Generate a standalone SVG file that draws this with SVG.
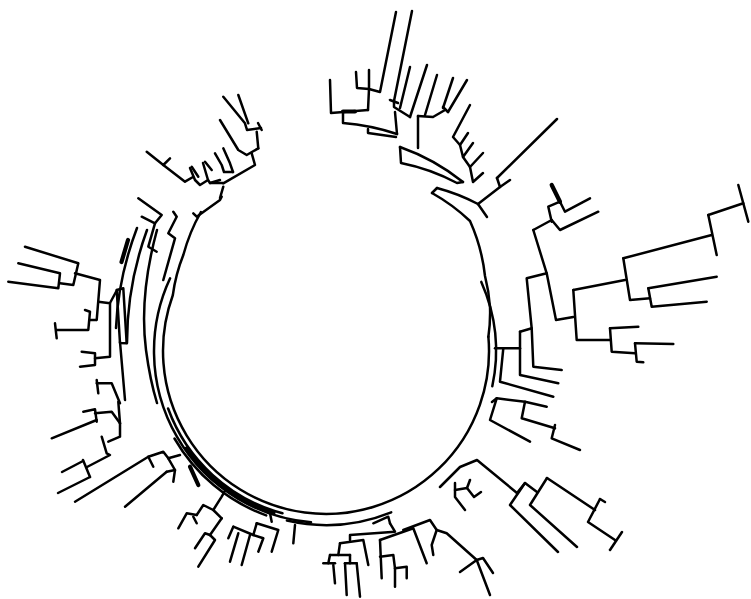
<svg xmlns="http://www.w3.org/2000/svg" width="751" height="599" viewBox="0 0 751 599">
<style>
path{fill:none;stroke:#000;stroke-width:2.5;stroke-linecap:round;stroke-linejoin:round}
.th{stroke-width:4.2}
</style>
<rect width="751" height="599" fill="#fff"/>
<g id="ring">
<path d="M488.4,336.8 A163,163 0 1 1 172.8,295.3 A170,170 0 0 1 183.4,254.8 A180,180 0 0 1 200.9,212"/>
<path d="M432,193 A190,190 0 0 1 470,221 A182,182 0 0 1 485,276 A172,172 0 0 1 490,307 A166,166 0 0 1 488.4,336.8"/>
<path d="M481.3,281.9 A170,170 0 0 1 492.3,386.3"/>
<path d="M311,522.3 A172,172 0 0 1 170.1,278.3"/>
<path d="M282.5,513.3 A168,168 0 0 1 168.1,408.5"/>
<path d="M266.2,515.4 A175,175 0 0 1 174.5,438.5"/>
<path d="M391.2,512.3 A174,174 0 0 1 286.9,520.5"/>
<path class="th" d="M273.5,512.7 A170,170 0 0 1 186.7,448.5"/>
</g>
<g id="top">
<path d="M330,80 L331,113 L368,110"/>
<path class="th" d="M343,111.5 L355,111.5"/>
<path d="M356,72 L357,88 L369,89 L369,70"/>
<path d="M369,89 L368,110"/>
<path d="M369,89 L380,92 L396,12"/>
<path d="M343,112 L343,123 A229,229 0 0 1 397,134"/>
<path d="M368,129 L368,133 L396,137"/>
<path d="M397,134 L395,112"/>
<path d="M390,100 L398,103"/>
<path d="M394,101 L394,107 L410,117"/>
<path d="M394,101 L412,11"/>
<path d="M400,108 L410,67"/>
<path d="M410,117 L427,65"/>
<path d="M425,115 L437,75"/>
<path d="M443,108 L453,78"/>
<path d="M448,112 L467,80"/>
<path d="M443,107 L448,112"/>
<path d="M418,116 L433,117 L445,110"/>
<path d="M418,116 L418,148"/>
<path d="M400,147 A217,217 0 0 1 463,182"/>
<path d="M400,147 L401,163 A205,205 0 0 1 457,183 L463,182"/>
<path d="M470,105 L453,137 L460,145 L468,133"/>
<path d="M460,145 L463,157 L473,143"/>
<path d="M463,157 L470,167 L483,153"/>
<path d="M470,167 L473,182 L483,173"/>
<path d="M557,119 L497,178"/>
<path d="M497,178 L500,187 L510,180"/>
<path d="M500,187 L478,204"/>
<path d="M478,204 L487,217"/>
<path d="M437,188 L432,193"/>
<path d="M437,188 A197,197 0 0 1 478,204"/>
</g>
<g id="right">
<path class="th" d="M551.7,185 L560,201.7"/>
<path d="M560,201.7 L565,211.7 L590,198.3"/>
<path d="M560,201.7 L548.3,206.7 L551.7,221.7"/>
<path d="M551.7,220 L560,230 L598.3,211.7"/>
<path d="M533.3,230 L551.7,220"/>
<path d="M533.3,230 L546.7,273.3 L526.7,278.3 L531.7,328.3"/>
<path d="M546.7,273.3 L556,320 L573.3,317"/>
<path d="M573.3,290 L576.7,340 L610,340"/>
<path d="M573.3,290 L625,280"/>
<path d="M623.3,258.3 L630,300 L650,298.3"/>
<path d="M623.3,258.3 L711.7,235"/>
<path d="M708.3,215 L716.7,255"/>
<path d="M708.3,215 L743.3,203.3"/>
<path d="M738.3,185 L748.3,221.7"/>
<path d="M648.3,288.3 L651.7,306.7 L706.7,301.7"/>
<path d="M648.3,288.3 L716.7,276.7"/>
<path d="M610,328.3 L611.7,351.7 L635,353.3"/>
<path d="M610,328.3 L638.3,326.7"/>
<path d="M635,343.3 L636.7,361.7 L643.3,362.3"/>
<path d="M635,343.3 L673.3,344"/>
<path d="M520,331.7 L531.7,328.3 L533.3,366.7 L561.7,370"/>
<path d="M520,331.7 L520,375 L558.3,383.3"/>
<path d="M495,348.3 L520,348.3"/>
<path d="M503.3,348.3 L500,381.7 L553.3,396.7"/>
<path d="M492,402 L496.7,398.3 L490,420 L530,441.7"/>
<path d="M496.7,398.3 L525,401.7 L546.7,406.7"/>
<path d="M525,401.7 L521.7,418.3 L555,428.3"/>
<path d="M555,425 L551.7,438.3 L580,450"/>
</g>
<g id="bottomright">
<path d="M440,487 L460,467 L477,460 L517,493"/>
<path d="M525,483 L510,505 L558,552"/>
<path d="M517,493 L525,483 L537,492"/>
<path d="M547,478 L530,505 L577,547"/>
<path d="M547,478 L595,510"/>
<path d="M600,499 L588,522 L615,540"/>
<path d="M600,499 L605,502"/>
<path d="M622,532 L610,550"/>
<path d="M455,483 L455,497 L465,510"/>
<path d="M455,490 L467,488 L474,497 L481,492"/>
<path d="M467,488 L470,480"/>
</g>
<g id="bottom">
<path d="M373.3,523.3 L388.3,516.7 L390,523.3"/>
<path d="M390,523.3 L395,531.7 L350,535 L350,540"/>
<path d="M340,543.3 L363.3,540 L368.3,565"/>
<path d="M340,543.3 L338.3,555"/>
<path d="M330,555 L350,555"/>
<path d="M330,555 L328.3,563.3"/>
<path d="M323.3,563.3 L335,563.3"/>
<path d="M333.3,565 L335,583.3"/>
<path d="M350,555 L350,563.3"/>
<path d="M345,563.3 L356.7,563.3"/>
<path d="M345,563.3 L346.7,595"/>
<path d="M356.7,563.3 L360,596.7"/>
<path d="M380,540 L413.3,528.3 L426.7,563.3"/>
<path d="M380,540 L381.7,578.3"/>
<path d="M380,556.7 L393.3,555 L395,568.3 L406.7,566.7 L406.7,578.3"/>
<path d="M395,568.3 L395,586.7"/>
<path d="M403.3,530 L430,520 L436.7,530 L431.7,545 L433.3,555"/>
<path d="M436.7,530 L446.7,533.3 L476.7,560"/>
<path d="M460,572 L476.7,560 L483,558 L493,573"/>
<path d="M476.7,560 L490,595"/>
<path d="M295,525 L293.3,543.3"/>
</g>
<g id="bottomleft">
<path class="th" d="M190,466.7 L198.3,485"/>
<path d="M226,489 L221.7,496.7 L213.3,510 L221.7,518.3"/>
<path d="M213.3,510 L203.3,505 L196.7,515"/>
<path d="M196.7,515 L186.7,513.3 L178.3,528.3"/>
<path d="M193.3,516.7 L196.7,523.3"/>
<path d="M221.7,518.3 L210,535"/>
<path d="M210,535 L205,533.3 L195,548.3"/>
<path d="M210,535 L215,540 L198.3,566.7"/>
<path d="M270,513.3 L271.7,521.7"/>
<path d="M256.7,523.3 L278.3,530 L271.7,551.7"/>
<path d="M256.7,523.3 L253.3,535"/>
<path d="M233.3,526.7 L253.3,535 L263.3,538.3 L258.3,551.7"/>
<path d="M233.3,526.7 L228.3,538.3"/>
<path d="M238.3,533.3 L230,561.7"/>
<path d="M250,535 L241.7,565"/>
<path d="M75,501.7 L148.3,456.7 L153.3,466.7"/>
<path d="M148.3,456.7 L163.3,451.7 L168.3,458.3 L180,455"/>
<path d="M168.3,458.3 L175,470 L173.3,481.7"/>
<path d="M166.7,471.7 L125,506.7"/>
<path d="M166.7,471.7 L175,470"/>
</g>
<g id="left">
<path d="M96.7,380 L98.3,393.3"/>
<path d="M96.7,383.3 L111.7,383.3 L120,403.3"/>
<path d="M118.3,401.7 L120,423.3"/>
<path d="M83.3,411.7 L95,409.3 L96.7,421.7"/>
<path d="M95,413.3 L111.7,411.7 L120,423.3"/>
<path d="M96.7,420 L51.7,438.3"/>
<path d="M120,423.3 L120,436.7 L108.3,441.7"/>
<path d="M101.7,436.7 L106.7,453.3 L110,455 L87,467"/>
<path d="M83,460 L90,477"/>
<path d="M83,461 L62,472"/>
<path d="M90,477 L58,493"/>
<path d="M25,246.7 L78.3,263.3 L73.3,285 L60,283.3"/>
<path d="M18.3,263.3 L60,273.3 L58.3,288.3 L8.3,281.7"/>
<path d="M75,273.3 L100,280 L96.7,320"/>
<path d="M98.3,301.7 L110,303.3 L110,356.7 L95,358.3"/>
<path d="M85,310 L90,311.7 L88.3,330 L56.7,330"/>
<path d="M55,323.3 L56.7,338.3"/>
<path d="M90,320 L96,320"/>
<path d="M81.7,351.7 L95,353.3 L95,365 L80,366.7"/>
<path d="M110,303 L117,290"/>
<path d="M116.7,290 L123.3,288.3 L126.7,343.3 L120,343 L116.7,290"/>
<path d="M120,342 L125,400"/>
<path d="M137,228 Q118,278 116,328"/>
<path d="M147,230 Q127,285 127,343"/>
<path d="M157,230 Q139,296 146,350 Q150,380 157,403"/>
<path class="th" d="M128,240 L121.5,262"/>
</g>
<g id="topleft">
<path d="M223.3,96.7 L245,123.3 L247,130 L261,128"/>
<path d="M238.3,95 L248.3,123.3"/>
<path d="M258,123 L261.7,130"/>
<path d="M256.7,131.7 L258.3,148.3"/>
<path d="M220,120 L238.3,150 L246.7,155 L258.3,148.3"/>
<path d="M251.7,153.3 L255,165 L223.3,183.3"/>
<path d="M223.3,148.3 L230,163.3 L233,172"/>
<path d="M215,153.3 L221.7,165 L224,172 L233,172"/>
<path d="M205,161.7 L211.7,170"/>
<path d="M191.7,166.7 L198.3,176.7"/>
<path d="M146.7,151.7 L163.3,165 L170,158.3"/>
<path d="M163.3,165 L185,181.7 L193,177"/>
<path d="M190,168 L195,180 L200,185 L208,180"/>
<path d="M203,163 L208,180 L210,183 L220,180"/>
<path d="M210,183 L223,183"/>
<path d="M220,198 L223.3,186.7"/>
<path d="M138.3,198.3 L161.7,215 L155,223.3 L141.7,216.7"/>
<path d="M155,223.3 L148.3,246.7 L156.7,251.7"/>
<path d="M173.3,211.7 L176.7,216.7 L168.3,233.3 L175,238.3 L163.3,280"/>
<path d="M193.3,213.3 L196.7,216.7 L220,200 L221.7,196.7"/>
</g>
</svg>
